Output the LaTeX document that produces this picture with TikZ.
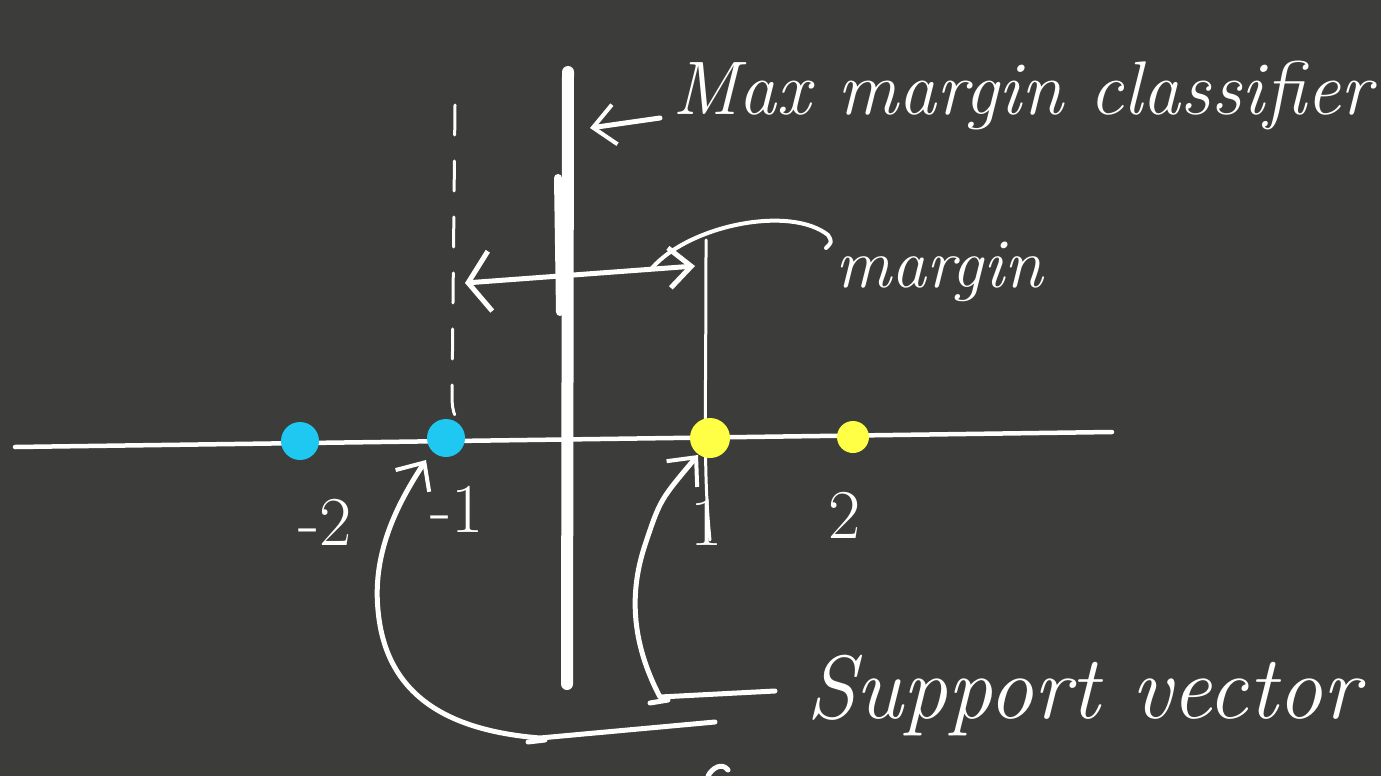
\documentclass[tikz,border=0pt]{standalone}
\usetikzlibrary{arrows.meta}
\definecolor{bg}{RGB}{60,60,58}
\definecolor{ptblue}{RGB}{30,200,240}
\definecolor{ptyellow}{RGB}{255,255,70}
\tikzset{
  chalk/.style={draw=white, line cap=round, line join=round},
  barb/.style={-{Straight Barb[length=22pt,width=40pt,line width=4pt]}},
  hand/.style={text=white, inner sep=0pt, font=\itshape},
  dot/.style={circle, inner sep=0pt},
}
\begin{document}
\begin{tikzpicture}[x=1pt,y=-1pt]
\fill[bg] (0,0) rectangle (1381,776);
\useasboundingbox (0,0) rectangle (1381,776);

% axis
\coordinate (axL) at (15,447);
\coordinate (axR) at (1112,432);
\draw[chalk, line width=4.5pt] (axL) -- (axR);

% max margin classifier (thick line)
\coordinate (clT) at (568,72);
\coordinate (clB) at (567,684);
\draw[chalk, line width=12pt] (clT) -- (clB);
\draw[chalk, line width=8pt] (558,178) -- (560,312);

% dashed margin line
\coordinate (dsT) at (455,105);
\coordinate (dsB) at (460,425);
\draw[chalk, line width=3pt, dash pattern=on 30pt off 26pt] (dsT) -- (452,400) .. controls (453,412) .. (dsB);

% thin line through +1 support vector
\coordinate (thT) at (706,240);
\coordinate (thB) at (710,540);
\draw[chalk, line width=3pt] (thT) .. controls (706,420) and (703,470) .. (thB);

% points
\node[dot, fill=ptblue, minimum size=38pt] (p1) at (300,441) {};
\node[dot, fill=ptblue, minimum size=38pt] (p2) at (446,438) {};
\node[dot, fill=ptyellow, minimum size=40pt] (p3) at (710,438) {};
\node[dot, fill=ptyellow, minimum size=32pt] (p4) at (853,437) {};

% margin arrow
\coordinate (mL) at (465,283);
\coordinate (mR) at (695,266);
\draw[chalk, line width=5pt, {Straight Barb[length=22pt,width=60pt,line width=5pt]}-{Straight Barb[length=22pt,width=40pt,line width=5pt]}] (mL) -- (mR);

% labels
\node[hand, font=\itshape\fontsize{76}{76}\selectfont, anchor=base west] (lbmax) at (672,114) {Max margin classifier};
\coordinate (maxS) at (660,118);
\coordinate (maxE) at (590,128);
\draw[chalk, line width=5pt, barb] (maxS) -- (maxE);

\node[hand, font=\itshape\fontsize{70}{70}\selectfont, anchor=base west] (lbmargin) at (835,287) {margin};
\draw[chalk, line width=4pt] (652,268) .. controls (690,225) and (790,205) .. (828,235) .. controls (832,242) .. (826,248);

\node[hand, font=\fontsize{70}{70}\selectfont, anchor=base] (n2) at (325,545) {-2};
\node[hand, font=\fontsize{70}{70}\selectfont, anchor=base] (n1) at (457,532) {-1};
\node[hand, font=\fontsize{70}{70}\selectfont, anchor=base] (q1) at (707,545) {1};
\node[hand, font=\fontsize{70}{70}\selectfont, anchor=base] (q2) at (845,538) {2};

\node[hand, font=\itshape\fontsize{90}{90}\selectfont, anchor=base west] (lbsv) at (806,718) {Support vector};

% support vector pointers
\coordinate (svR1) at (775,691);
\coordinate (svR2) at (660,697);
\coordinate (tipR) at (698,455);
\draw[chalk, line width=5pt, barb] (svR1) -- (svR2) .. controls (630,640) and (630,590) .. (645,545) .. controls (660,500) .. (tipR);
\draw[chalk, line width=5pt] (650,703) -- (668,700);

\coordinate (svL1) at (715,722);
\coordinate (svL2) at (540,738);
\coordinate (tipL) at (426,460);
\draw[chalk, line width=5pt, barb] (svL1) -- (svL2) .. controls (440,730) and (385,690) .. (378,610) .. controls (372,550) and (400,500) .. (tipL);
\draw[chalk, line width=5pt] (528,742) -- (545,740);

% fragment at bottom edge
\draw[chalk, line width=5pt] (708,776) .. controls (712,768) and (722,762) .. (728,770);
\end{tikzpicture}
\end{document}
